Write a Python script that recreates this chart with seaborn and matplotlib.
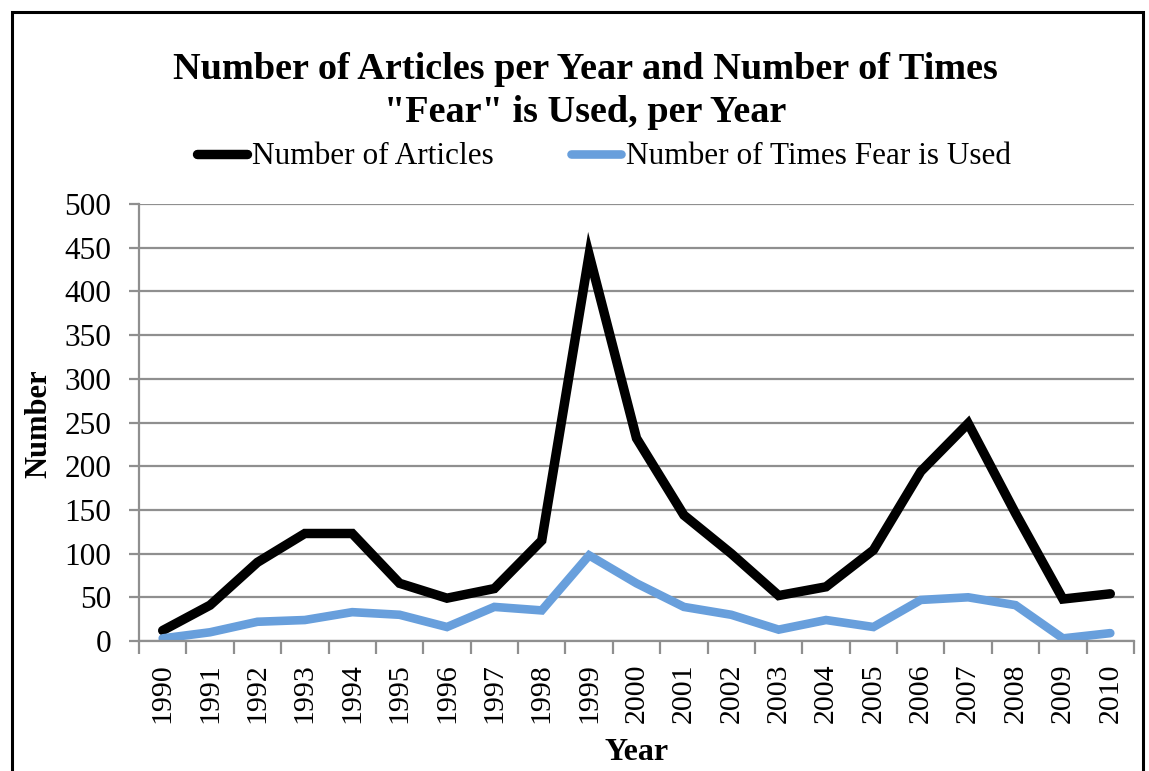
import matplotlib
matplotlib.use("Agg")
import matplotlib.pyplot as plt
from matplotlib.patches import Rectangle
from matplotlib.lines import Line2D
import numpy as np
import pandas as pd
import seaborn as sns

years = ["1990", "1991", "1992", "1993", "1994", "1995", "1996", "1997", "1998", "1999",
         "2000", "2001", "2002", "2003", "2004", "2005", "2006", "2007", "2008", "2009", "2010"]
articles = [12, 41, 90, 123, 123, 66, 49, 60, 115, 442,
            232, 144, 100, 52, 62, 104, 194, 249, 146, 48, 54]
fear_uses = [3, 10, 22, 24, 33, 30, 16, 39, 35, 98,
             66, 39, 30, 13, 24, 16, 47, 50, 41, 3, 9]

series_names = ["Number of Articles", "Number of Times Fear is Used"]
series_colors = ["#000000", "#689fdc"]
series_widths = [6.8, 6.2]

sns.set_theme(style="white")
plt.rcParams["font.family"] = ["Liberation Serif", "DejaVu Serif"]
plt.rcParams.update({"text.color": "black", "axes.labelcolor": "black",
                     "xtick.color": "black", "ytick.color": "black"})

pos = np.arange(len(years))
df = pd.DataFrame({
    "pos": np.concatenate([pos, pos]),
    "value": articles + fear_uses,
    "series": [series_names[0]] * len(years) + [series_names[1]] * len(years),
})

fig = plt.figure(figsize=(11.49, 7.71), dpi=100)
ax = fig.add_axes([139 / 1149, 1 - 641 / 771, (1134 - 139) / 1149, (641 - 204) / 771])

sns.lineplot(data=df, x="pos", y="value", hue="series", palette=series_colors,
             hue_order=series_names, ax=ax, legend=False, sort=False)
for line, lw in zip(ax.get_lines(), series_widths):
    line.set_linewidth(lw)
    line.set_solid_joinstyle("miter")
    line.set_solid_capstyle("round")

grid_color = "#8f8f8f"
ax.set_xlim(-0.5, len(years) - 0.5)
ax.set_ylim(0, 500)
ax.set_yticks(np.arange(0, 501, 50))
ax.yaxis.grid(True, color=grid_color, linewidth=1.6)
ax.set_axisbelow(True)
ax.tick_params(axis="y", which="major", length=7, width=1.6, color=grid_color,
               labelcolor="black", labelsize=22.5, pad=13, left=True)

ax.set_xticks(pos)
ax.set_xticklabels(years, rotation=90, fontsize=21.5)
ax.set_xticks(np.arange(-0.5, len(years), 1.0), minor=True)
ax.tick_params(axis="x", which="major", length=0, pad=16)
ax.tick_params(axis="x", which="minor", length=9, width=1.6, color=grid_color, bottom=True)

for side in ["top", "right"]:
    ax.spines[side].set_visible(False)
for side in ["left", "bottom"]:
    ax.spines[side].set_color(grid_color)
    ax.spines[side].set_linewidth(1.6)

ax.set_xlabel("Year", fontsize=23, fontweight="bold")
ax.xaxis.set_label_coords(0.5, -(752 - 641) / (641 - 204), transform=ax.transAxes)
ax.xaxis.label.set_va("center")
ax.set_ylabel("Number", fontsize=22, fontweight="bold")
ax.yaxis.set_label_coords(-(139 - 39) / (1134 - 139), (641 - 424) / (641 - 204), transform=ax.transAxes)
ax.yaxis.label.set_va("center")

fig.text(585 / 1149, 1 - 91 / 771, "Number of Articles per Year and Number of Times\n\"Fear\" is Used, per Year",
         ha="center", va="center", fontsize=27.5, fontweight="bold", linespacing=1.32)

handles = [Line2D([0], [0], color=c, linewidth=lw, solid_capstyle="round")
           for c, lw in zip(series_colors, series_widths)]
fig.legend(handles, series_names, loc="center", bbox_to_anchor=(604 / 1149, 1 - 157 / 771),
           ncol=2, frameon=False, fontsize=22.5, handlelength=1.6, handletextpad=0.15,
           columnspacing=2.5, borderpad=0, borderaxespad=0)

fig.patches.append(Rectangle((12 / 1149, -0.05), (1143 - 12) / 1149, 1.05 - 12 / 771,
                             transform=fig.transFigure, fill=False, edgecolor="black",
                             linewidth=2.2, zorder=10))

fig.savefig("out.png", dpi=100, facecolor="white")
